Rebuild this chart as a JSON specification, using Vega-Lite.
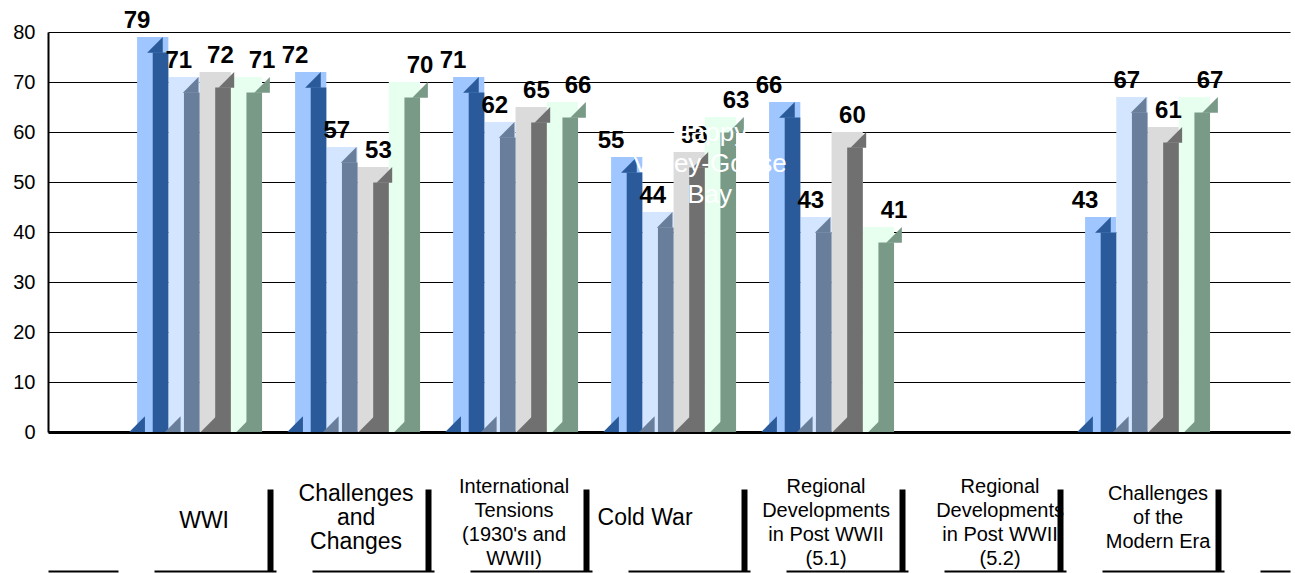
{
  "$schema": "https://vega.github.io/schema/vega-lite/v6.json",
  "width": 1242,
  "height": 400,
  "autosize": {"type": "none"},
  "padding": {"left": 48, "top": 32, "right": 5, "bottom": 141},
  "background": "white",
  "config": {"view": {"stroke": null}, "font": "Liberation Sans"},
  "data": {
    "values": [
      {"topic": "WWI", "series": "A", "value": 79},
      {"topic": "WWI", "series": "B", "value": 71},
      {"topic": "WWI", "series": "C", "value": 72},
      {"topic": "WWI", "series": "D", "value": 71},
      {"topic": "Challenges and Changes", "series": "A", "value": 72},
      {"topic": "Challenges and Changes", "series": "B", "value": 57},
      {"topic": "Challenges and Changes", "series": "C", "value": 53},
      {"topic": "Challenges and Changes", "series": "D", "value": 70},
      {"topic": "International Tensions (1930's and WWII)", "series": "A", "value": 71},
      {"topic": "International Tensions (1930's and WWII)", "series": "B", "value": 62},
      {"topic": "International Tensions (1930's and WWII)", "series": "C", "value": 65},
      {"topic": "International Tensions (1930's and WWII)", "series": "D", "value": 66},
      {"topic": "Cold War", "series": "A", "value": 55},
      {"topic": "Cold War", "series": "B", "value": 44},
      {"topic": "Cold War", "series": "C", "value": 56},
      {"topic": "Cold War", "series": "D", "value": 63},
      {"topic": "Regional Developments in Post WWII (5.1)", "series": "A", "value": 66},
      {"topic": "Regional Developments in Post WWII (5.1)", "series": "B", "value": 43},
      {"topic": "Regional Developments in Post WWII (5.1)", "series": "C", "value": 60},
      {"topic": "Regional Developments in Post WWII (5.1)", "series": "D", "value": 41},
      {"topic": "Challenges of the Modern Era", "series": "A", "value": 43},
      {"topic": "Challenges of the Modern Era", "series": "B", "value": 67},
      {"topic": "Challenges of the Modern Era", "series": "C", "value": 61},
      {"topic": "Challenges of the Modern Era", "series": "D", "value": 67}
    ]
  },
  "layer": [
    {
      "mark": {"type": "bar"},
      "encoding": {
        "x": {
          "field": "topic", "type": "nominal",
          "scale": {
            "domain": ["WWI", "Challenges and Changes", "International Tensions (1930's and WWII)", "Cold War", "Regional Developments in Post WWII (5.1)", "Regional Developments in Post WWII (5.2)", "Challenges of the Modern Era"],
            "paddingInner": 0.209, "paddingOuter": 0.535, "align": 0.527
          },
          "axis": {"title": null, "labels": false, "ticks": false, "grid": false, "domain": true, "domainColor": "black", "domainWidth": 3, "orient": "bottom"}
        },
        "xOffset": {"field": "series", "type": "nominal", "scale": {"paddingInner": 0, "paddingOuter": 0}},
        "y": {
          "field": "value", "type": "quantitative", "stack": null,
          "scale": {"domain": [0, 80], "nice": false},
          "axis": {"title": null, "values": [0, 10, 20, 30, 40, 50, 60, 70, 80], "grid": true, "gridColor": "black", "gridWidth": 1, "gridOpacity": 1, "domainColor": "black", "domainWidth": 2, "ticks": false, "labelFontSize": 20, "labelColor": "black", "labelPadding": 13, "labelFont": "Liberation Sans"}
        },
        "color": {"field": "series", "type": "nominal", "scale": {"domain": ["A", "B", "C", "D"], "range": ["#A0C6FF", "#D3E5FF", "#DBDBDB", "#E6FFEE"]}, "legend": null}
      }
    },
    {
      "mark": {"type": "bar", "yOffset": 15.6, "clip": true},
      "encoding": {
        "x": {
          "field": "topic", "type": "nominal",
          "axis": {
            "orient": "bottom", "offset": 57, "title": null, "domain": false, "grid": false,
            "ticks": true, "tickSize": 82, "tickWidth": 6, "tickColor": "black", "tickOffset": 70,
            "labelAngle": 0, "labelLimit": 0, "labelColor": "black", "labelFont": "Liberation Sans",
            "labelBaseline": "middle", "labelLineHeight": 24,
            "labelPadding": {"condition": [
              {"test": "datum.value == 'WWI'", "value": -51},
              {"test": "datum.value == 'Cold War'", "value": -54},
              {"test": "datum.value == 'Challenges and Changes'", "value": -78},
              {"test": "datum.value == 'Challenges of the Modern Era'", "value": -78}
            ], "value": -85},
            "labelFontSize": {"condition": {"test": "datum.value == 'WWI' || datum.value == 'Challenges and Changes' || datum.value == 'Cold War'", "value": 23}, "value": 20},
            "labelOffset": {"condition": [
              {"test": "datum.value == 'WWI'", "value": -66},
              {"test": "datum.value == 'Cold War'", "value": -99},
              {"test": "datum.value == 'Regional Developments in Post WWII (5.1)'", "value": -76},
              {"test": "datum.value == 'Regional Developments in Post WWII (5.2)'", "value": -60},
              {"test": "datum.value == 'Challenges of the Modern Era'", "value": -60}
            ], "value": -72},
            "labelExpr": "datum.value == 'WWI' ? 'WWI' : datum.value == 'Challenges and Changes' ? ['Challenges', 'and', 'Changes'] : datum.value == 'Cold War' ? 'Cold War' : datum.value == 'Challenges of the Modern Era' ? ['Challenges', 'of the', 'Modern Era'] : datum.value == 'Regional Developments in Post WWII (5.1)' ? ['Regional', 'Developments', 'in Post WWII', '(5.1)'] : datum.value == 'Regional Developments in Post WWII (5.2)' ? ['Regional', 'Developments', 'in Post WWII', '(5.2)'] : ['International', 'Tensions', \"(1930's and\", 'WWII)']"
          }
        },
        "xOffset": {"field": "series", "type": "nominal", "scale": {"paddingInner": 0.5, "paddingOuter": 0.25, "align": 1}},
        "y": {"field": "value", "type": "quantitative", "stack": null, "axis": null},
        "color": {"field": "series", "type": "nominal", "scale": {"domain": ["A", "B", "C", "D"], "range": ["#2A5A9A", "#687E9A", "#707070", "#7A9A88"]}, "legend": null}
      }
    },
    {
      "mark": {"type": "point", "shape": "M1,-1L1,1L-1,1Z", "size": 245, "filled": true, "opacity": 1, "strokeWidth": 0, "yOffset": 7.8},
      "encoding": {
        "x": {
          "field": "topic", "type": "nominal",
          "axis": {"orient": "bottom", "offset": 139, "title": null, "labels": false, "ticks": false, "grid": false, "domain": true, "domainColor": "black", "domainWidth": 2, "domainDash": [122, 36], "domainDashOffset": 52}
        },
        "xOffset": {"field": "series", "type": "nominal", "scale": {"paddingInner": 0.5, "paddingOuter": 0.25, "align": 1}},
        "y": {"field": "value", "type": "quantitative", "axis": null},
        "color": {"field": "series", "type": "nominal", "scale": {"domain": ["A", "B", "C", "D"], "range": ["#2A5A9A", "#687E9A", "#707070", "#7A9A88"]}, "legend": null}
      }
    },
    {
      "mark": {"type": "point", "shape": "M-1,1L1,-1L1,1Z", "size": 245, "filled": true, "opacity": 1, "strokeWidth": 0, "yOffset": -7.8},
      "encoding": {
        "x": {"field": "topic", "type": "nominal", "axis": null},
        "xOffset": {"field": "series", "type": "nominal", "scale": {"paddingInner": 0.5, "paddingOuter": 0.25, "align": 0}},
        "y": {"datum": 0, "type": "quantitative", "axis": null},
        "color": {"field": "series", "type": "nominal", "scale": {"domain": ["A", "B", "C", "D"], "range": ["#2A5A9A", "#687E9A", "#707070", "#7A9A88"]}, "legend": null}
      }
    },
    {
      "mark": {"type": "text", "fontSize": 24, "fontWeight": "bold", "baseline": "alphabetic", "dy": -9, "color": "black", "font": "Liberation Sans"},
      "encoding": {
        "x": {"field": "topic", "type": "nominal", "axis": null},
        "xOffset": {"field": "series", "type": "nominal", "scale": {"paddingInner": 0, "paddingOuter": 0}},
        "y": {"field": "value", "type": "quantitative", "axis": null},
        "text": {"field": "value", "type": "quantitative"}
      }
    },
    {
      "data": {"values": [{"note": "Happy Valley-Goose Bay"}]},
      "mark": {"type": "text", "fontSize": 26, "baseline": "alphabetic", "align": "center", "lineHeight": 31, "dx": 36, "color": "white", "font": "Liberation Sans"},
      "encoding": {
        "x": {"datum": "Cold War", "type": "nominal", "axis": null},
        "y": {"datum": 58.2, "type": "quantitative", "axis": null},
        "text": {"value": ["Happy", "Valley-Goose", "Bay"]}
      }
    }
  ],
  "resolve": {
    "axis": {"x": "independent", "y": "independent"},
    "scale": {"xOffset": "independent", "color": "independent"}
  }
}
